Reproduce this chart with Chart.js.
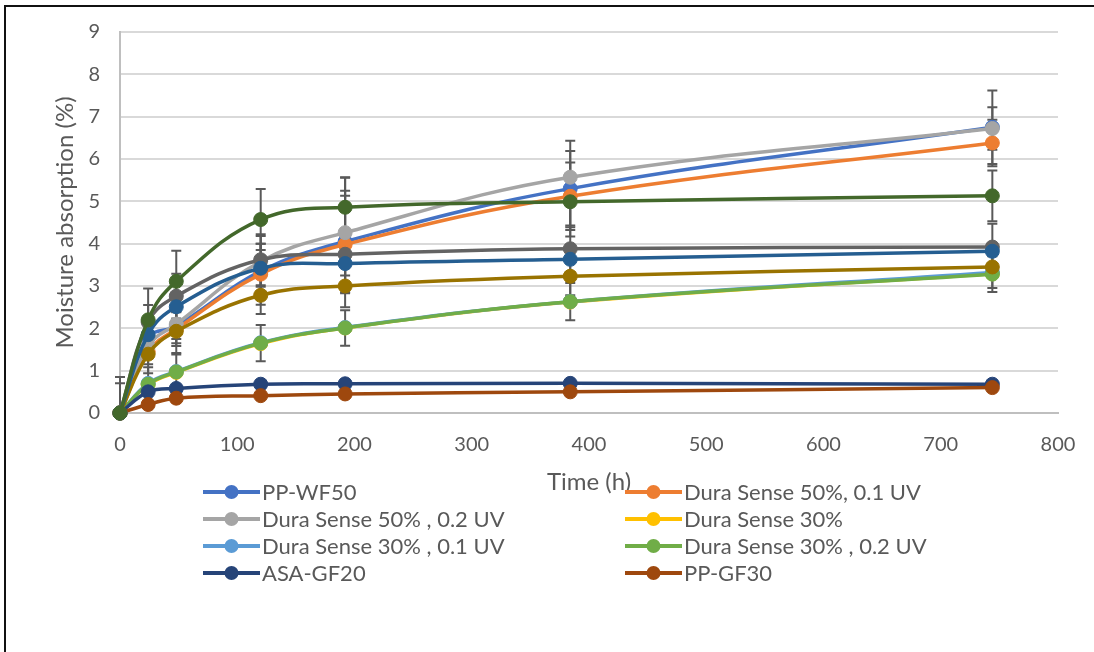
<!DOCTYPE html>
<html>
<head>
<meta charset="utf-8">
<script src="https://cdn.jsdelivr.net/npm/chart.js@4"></script>
<style>
  html, body { margin: 0; padding: 0; background: #fff; overflow: hidden; }
  #wrap { position: relative; width: 1094px; height: 652px; }
  #chart { position: absolute; left: 0; top: 0; }
  #frame { position: absolute; left: 4px; top: 5px; width: 1200px; height: 700px;
           border-top: 2px solid #111; border-left: 2px solid #111; pointer-events: none; }
</style>
</head>
<body>
<div id="wrap">
  <canvas id="chart" width="1094" height="652"></canvas>
  <div id="frame"></div>
</div>
<script>
"use strict"

const hours = [0, 24, 48, 120, 192, 384, 744];

const seriesNames = [
  'PP-WF50',
  'Dura Sense 50%, 0.1 UV',
  'Dura Sense 50% , 0.2 UV',
  'Dura Sense 30%',
  'Dura Sense 30% , 0.1 UV',
  'Dura Sense 30% , 0.2 UV',
  'ASA-GF20',
  'PP-GF30',
  '', '', '', ''
];

const ppWF50    = [0, 1.78, 2.05, 3.35, 4.05, 5.30, 6.75];
const dura50_01 = [0, 1.45, 1.98, 3.28, 3.98, 5.12, 6.38];
const dura50_02 = [0, 1.58, 2.10, 3.58, 4.26, 5.57, 6.72];
const dura30    = [0, 0.67, 0.96, 1.64, 2.01, 2.62, 3.29];
const dura30_01 = [0, 0.70, 0.98, 1.66, 2.02, 2.63, 3.32];
const dura30_02 = [0, 0.68, 0.97, 1.65, 2.01, 2.63, 3.28];
const asaGF20   = [0, 0.50, 0.58, 0.68, 0.69, 0.70, 0.68];
const ppGF30    = [0, 0.20, 0.35, 0.41, 0.45, 0.50, 0.60];
const series9   = [0, 2.15, 2.76, 3.62, 3.75, 3.88, 3.92];
const series10  = [0, 1.39, 1.93, 2.78, 3.00, 3.23, 3.45];
const series11  = [0, 1.85, 2.51, 3.42, 3.53, 3.63, 3.82];
const series12  = [0, 2.20, 3.11, 4.57, 4.86, 4.99, 5.13];

// error bar half-lengths (null = none)
const errWF50    = [0, 0.35, 0.40, 0.65, 1.20, 1.13, 0.87];
const err50_01   = [0, 0.30, 0.40, 0.72, 1.15, 0.80, 0.55];
const err50_02   = [0, 0.30, 0.35, 0.60, 1.31, 0.62, 0.50];
const err30_02   = [0.85, 0.40, 0.45, 0.43, 0.42, 0.44, 0.42];
const errS9      = [0.70, 0.40, 0.53, 0.60, 0.50, 0.55, 0.55];
const errS10     = [0, 0.45, 0.55, 0.44, 0.50, 0.45, 0.50];
const errS12     = [0, 0.74, 0.72, 0.72, 0.70, 0.60, 0.60];

const values = [ppWF50, dura50_01, dura50_02, dura30, dura30_01, dura30_02,
                asaGF20, ppGF30, series9, series10, series11, series12];
const errors = [errWF50, err50_01, err50_02, null, null, err30_02,
                null, null, errS9, errS10, null, errS12];
const colors = ['#4472C4', '#ED7D31', '#A5A5A5', '#FFC000', '#5B9BD5', '#70AD47',
                '#264478', '#9E480E', '#636363', '#997300', '#255E91', '#43682B'];

const legendCount = 8;
const FONT = 'Lato, "Noto Sans", sans-serif';

// excel paints later series on top; chart.js paints low `order` on top
const datasets = values.map((vals, i) => ({
  label: seriesNames[i],
  data: hours.map((h, j) => ({x: h, y: vals[j]})),
  errors: errors[i],
  order: values.length - i,
  borderColor: colors[i],
  backgroundColor: colors[i],
  pointBackgroundColor: colors[i],
  pointBorderColor: colors[i],
  borderWidth: 3.5,
  pointRadius: 7,
  pointBorderWidth: 1,
  tension: 0.4,
  clip: false
}));

const errorBars = {
  id: 'errorBars',
  beforeDatasetsDraw(chart) {
    const {ctx, chartArea, scales: {x, y}} = chart;
    ctx.save();
    ctx.beginPath();
    ctx.rect(chartArea.left - 10, chartArea.top, chartArea.right - chartArea.left + 20, chartArea.bottom - chartArea.top);
    ctx.clip();
    ctx.strokeStyle = '#595959';
    ctx.lineWidth = 2;
    chart.data.datasets.forEach(ds => {
      if (!ds.errors) return;
      ds.data.forEach((p, j) => {
        const e = ds.errors[j];
        if (!e) return;
        const px = x.getPixelForValue(p.x);
        const y1 = y.getPixelForValue(p.y + e);
        const y2 = y.getPixelForValue(p.y - e);
        ctx.beginPath();
        ctx.moveTo(px, y1); ctx.lineTo(px, y2);
        ctx.moveTo(px - 5, y1); ctx.lineTo(px + 5, y1);
        ctx.moveTo(px - 5, y2); ctx.lineTo(px + 5, y2);
        ctx.stroke();
      });
    });
    ctx.restore();
  }
};

const excelLegend = {
  id: 'excelLegend',
  afterDraw(chart) {
    const {ctx} = chart;
    const cols = [203, 625];
    const rowY = [492, 519, 546, 573];
    ctx.save();
    ctx.font = '22px ' + FONT;
    ctx.textBaseline = 'middle';
    chart.data.datasets.slice(0, legendCount).forEach((ds, i) => {
      const cx = cols[i % 2];
      const cy = rowY[Math.floor(i / 2)];
      ctx.strokeStyle = ds.borderColor;
      ctx.lineWidth = 4;
      ctx.beginPath();
      ctx.moveTo(cx, cy); ctx.lineTo(cx + 57, cy);
      ctx.stroke();
      ctx.fillStyle = ds.borderColor;
      ctx.beginPath();
      ctx.arc(cx + 28.5, cy, 7, 0, Math.PI * 2);
      ctx.fill();
      ctx.fillStyle = '#595959';
      ctx.fillText(ds.label, cx + 59, cy + 1);
    });
    ctx.restore();
  }
};

new Chart(document.getElementById('chart'), {
  type: 'line',
  data: {datasets},
  options: {
    responsive: false,
    animation: false,
    devicePixelRatio: 1,
    layout: {padding: {left: 0, top: 25, right: 36, bottom: 0}},
    plugins: {
      legend: {display: false},
      tooltip: {enabled: false}
    },
    scales: {
      x: {
        type: 'linear',
        min: 0, max: 800,
        afterFit: s => { s.height = 239; },
        ticks: {stepSize: 100, color: '#595959', font: {family: FONT, size: 20}, padding: 12, maxRotation: 0},
        grid: {display: false},
        border: {display: true, color: '#BFBFBF', width: 2},
        title: {display: true, text: 'Time (h)', color: '#595959',
                font: {family: FONT, size: 24}, padding: {top: 0, bottom: 155}}
      },
      y: {
        min: 0, max: 9,
        afterFit: s => { s.width = 120; },
        ticks: {stepSize: 1, color: '#595959', font: {family: FONT, size: 20}, padding: 20},
        grid: {color: '#D9D9D9', lineWidth: 2, drawTicks: false},
        border: {display: true, color: '#BFBFBF', width: 2},
        title: {display: true, text: 'Moisture absorption (%)', color: '#595959',
                font: {family: FONT, size: 24}, padding: {top: 51, bottom: 0}}
      }
    }
  },
  plugins: [errorBars, excelLegend]
});
</script>
</body>
</html>
